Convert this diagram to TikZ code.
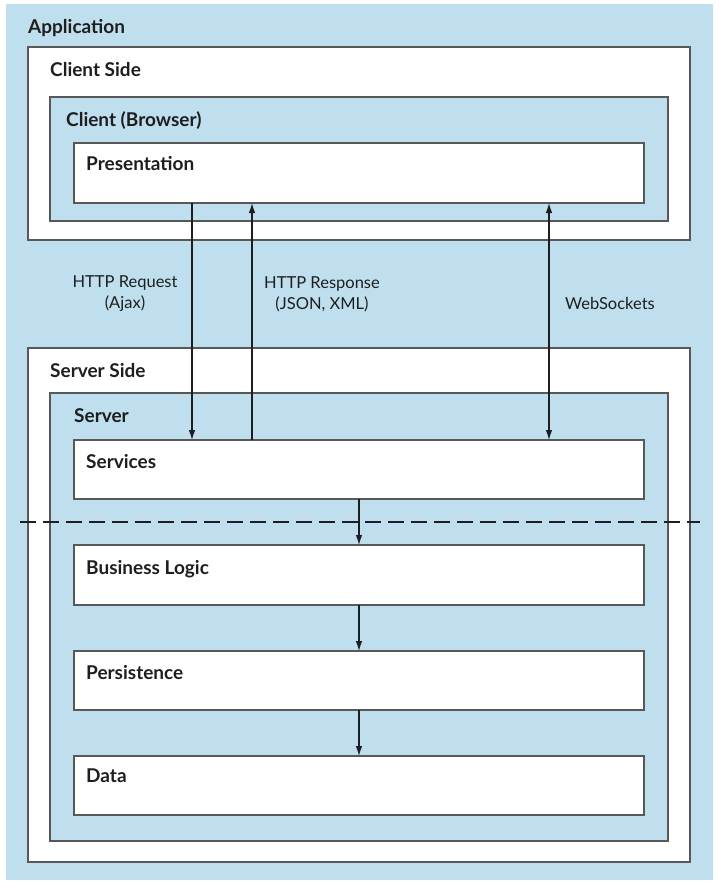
\documentclass[tikz,border=0pt]{standalone}
\usepackage{fontspec}
\setmainfont{Lato}
\usetikzlibrary{arrows.meta}
\definecolor{paneblue}{RGB}{191,223,238}
\definecolor{edgegray}{RGB}{88,88,88}
\definecolor{inkdark}{RGB}{30,30,30}
\begin{document}
\begin{tikzpicture}[x=1pt,y=-1pt,
  panel/.style={draw=edgegray, line width=1.4pt, anchor=north west, inner sep=0pt, outer sep=0pt},
  whitebox/.style={panel, fill=white},
  bluebox/.style={panel, fill=paneblue},
  title/.style={anchor=base west, inner sep=0pt, font=\fontsize{19}{22}\selectfont\bfseries, text=inkdark},
  label/.style={align=center, inner sep=0pt, font=\fontsize{16.5}{21}\selectfont, text=inkdark},
  flow/.style={draw=inkdark, line width=1.1pt, -{Latex[length=10pt,width=6.5pt]}},
  biflow/.style={draw=inkdark, line width=1.1pt, {Latex[length=10pt,width=6.5pt]}-{Latex[length=10pt,width=6.5pt]}},
  divider/.style={draw=inkdark, line width=1.1pt, dash pattern=on 16pt off 7pt}]

\useasboundingbox (0,0) rectangle (719,887);

% application background
\node[anchor=north west, fill=paneblue, inner sep=0pt, minimum width=707pt, minimum height=876pt] (app) at (6,4) {};
\node[title] (apptitle) at (28,33) {Application};

% client side
\node[whitebox, minimum width=662pt, minimum height=193pt] (clientside) at (28,47) {};
\node[title] (clientsidetitle) at (50,76) {Client Side};
\node[bluebox, minimum width=618pt, minimum height=124pt] (browser) at (50,97) {};
\node[title] (browsertitle) at (66,126) {Client (Browser)};
\node[whitebox, minimum width=570pt, minimum height=60pt] (pres) at (74,143) {};
\node[title] (prestitle) at (86,170) {Presentation};

% server side
\node[whitebox, minimum width=662pt, minimum height=514pt] (serverside) at (28,348) {};
\node[title] (serversidetitle) at (50,377) {Server Side};
\node[bluebox, minimum width=618pt, minimum height=448pt] (server) at (50,393) {};
\node[title] (servertitle) at (74,422) {Server};
\node[whitebox, minimum width=570pt, minimum height=59pt] (svc) at (74,440) {};
\node[title] (svctitle) at (86,468) {Services};
\node[whitebox, minimum width=570pt, minimum height=60pt] (logic) at (74,545) {};
\node[title] (logictitle) at (86,574) {Business Logic};
\node[whitebox, minimum width=570pt, minimum height=59pt] (persist) at (74,651) {};
\node[title] (persisttitle) at (86,679) {Persistence};
\node[whitebox, minimum width=570pt, minimum height=59pt] (data) at (74,756) {};
\node[title] (datatitle) at (86,782) {Data};

% tier separator
\coordinate (divl) at (20,522);
\coordinate (divr) at (700,522);
\draw[divider] (divl) -- (divr);

% communication channels
\coordinate (reqx) at (192,0);
\coordinate (resx) at (252,0);
\coordinate (wsx) at (549,0);
\coordinate (layx) at (359,0);
\draw[flow] (pres.south -| reqx) -- (svc.north -| reqx);
\draw[flow] (svc.north -| resx) -- (pres.south -| resx);
\draw[biflow] (pres.south -| wsx) -- (svc.north -| wsx);
\node[label] (reqlabel) at (125,294) {HTTP Request\\(Ajax)};
\node[label] (reslabel) at (322,294) {HTTP Response\\(JSON, XML)};
\node[label] (wslabel) at (610,303) {WebSockets};

% layer flow
\draw[flow] (svc.south -| layx) -- (logic.north -| layx);
\draw[flow] (logic.south -| layx) -- (persist.north -| layx);
\draw[flow] (persist.south -| layx) -- (data.north -| layx);
\end{tikzpicture}
\end{document}
